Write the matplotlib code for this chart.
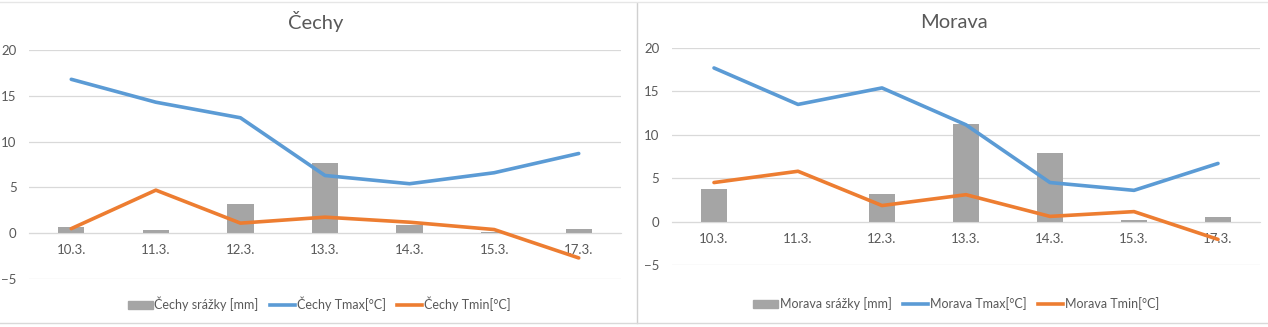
import numpy as np
import matplotlib
matplotlib.use("Agg")
import matplotlib.pyplot as plt
from matplotlib.lines import Line2D

plt.rcParams['font.family'] = ['Lato', 'DejaVu Sans']

days = ["10.3.", "11.3.", "12.3.", "13.3.", "14.3.", "15.3.", "17.3."]

cechy_rain = [0.7, 0.35, 3.2, 7.7, 0.85, 0.1, 0.45]
cechy_tmax = [16.8, 14.3, 12.6, 6.3, 5.4, 6.6, 8.7]
cechy_tmin = [0.5, 4.7, 1.1, 1.75, 1.2, 0.4, -2.7]

morava_rain = [3.7, 0.0, 3.15, 11.3, 7.9, 0.15, 0.55]
morava_tmax = [17.7, 13.5, 15.4, 11.15, 4.5, 3.6, 6.7]
morava_tmin = [4.5, 5.8, 1.85, 3.1, 0.6, 1.15, -2.05]

C_BAR = "#A5A5A5"
C_MAX = "#5B9BD5"
C_MIN = "#ED7D31"
C_TXT = "#595959"
C_GRID = "#D9D9D9"

W, H = 1268, 327
fig = plt.figure(figsize=(W / 100, H / 100), dpi=100)


def panel(rect, name, rain, tmax, tmin, title_xy, legend_xy):
    ax = fig.add_axes(rect)
    x = np.arange(len(days))
    ax.bar(x, rain, width=0.31, color=C_BAR, zorder=2)
    ax.plot(x, tmax, color=C_MAX, lw=2.6, solid_capstyle="round", zorder=3)
    ax.plot(x, tmin, color=C_MIN, lw=2.6, solid_capstyle="round", zorder=3)
    ax.set_xlim(-0.5, len(days) - 0.5)
    ax.set_ylim(-5, 20)
    ax.set_yticks([-5, 0, 5, 10, 15, 20])
    ax.yaxis.grid(True, color=C_GRID, lw=0.9, zorder=0)
    ax.set_axisbelow(True)
    for s in ["top", "right", "left"]:
        ax.spines[s].set_visible(False)
    ax.spines["bottom"].set_position(("data", 0))
    ax.spines["bottom"].set_color(C_GRID)
    ax.set_xticks(x)
    ax.set_xticklabels(days)
    ax.tick_params(axis="both", length=0, colors=C_TXT, labelsize=9.5)
    ax.tick_params(axis="x", pad=8)
    ax.tick_params(axis="y", pad=9)
    fig.text(title_xy[0] / W, 1 - title_xy[1] / H, name, ha="center",
             va="center", fontsize=14.5, color=C_TXT)
    handles = [
        plt.Rectangle((0, 0), 1, 1, color=C_BAR),
        Line2D([], [], color=C_MAX, lw=2.6),
        Line2D([], [], color=C_MIN, lw=2.6),
    ]
    labels = [name + " srážky [mm]", name + " Tmax[°C]", name + " Tmin[°C]"]
    fig.legend(handles, labels, loc="center", ncol=3, frameon=False,
               bbox_to_anchor=(legend_xy[0] / W, 1 - legend_xy[1] / H),
               fontsize=9, labelcolor=C_TXT, handlelength=2.0,
               handleheight=0.6, handletextpad=0.15, columnspacing=0.9)
    return ax


panel([29 / W, (H - 279) / H, 592 / W, 229 / H], "Čechy",
      cechy_rain, cechy_tmax, cechy_tmin, (316, 22), (319, 304))
panel([672 / W, (H - 265) / H, 588 / W, 217 / H], "Morava",
      morava_rain, morava_tmax, morava_tmin, (954, 23), (956, 304))

# chart frames
fig.add_artist(Line2D([637 / W, 637 / W], [1 - 3 / H, 1 - 323 / H], color="#D0D0D0", lw=1))
fig.add_artist(Line2D([0, 1], [1 - 323 / H, 1 - 323 / H], color="#D9D9D9", lw=1))
fig.add_artist(Line2D([0, 1], [1 - 2 / H, 1 - 2 / H], color="#E6E6E6", lw=1))

fig.savefig("out.png", dpi=100, facecolor="white")
